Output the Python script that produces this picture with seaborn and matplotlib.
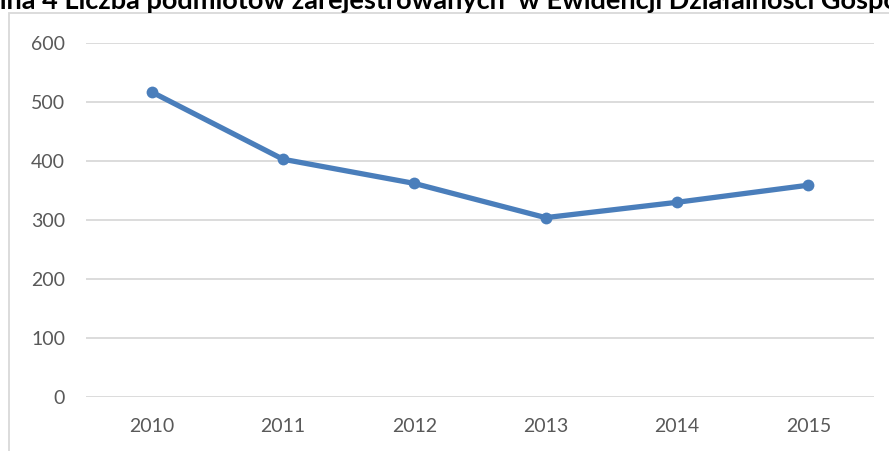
import matplotlib
matplotlib.use('Agg')
import matplotlib.pyplot as plt
import seaborn as sns
from matplotlib.patches import Rectangle

years = ['2010', '2011', '2012', '2013', '2014', '2015']
counts = [517, 403, 362, 304, 330, 359]
title = 'Rycina 4 Liczba podmiotów zarejestrowanych  w Ewidencji Działalności Gospodarczej'
hidden_start = 'Ryc'
visible_part = 'ia 4 Liczba podmiotów zarejestrowanych  w Ewidencji Działalności Gospo'

sns.set_style('white')
plt.rcParams['font.family'] = ['Lato', 'DejaVu Sans']

W, H = 889, 451
fig = plt.figure(figsize=(W / 100, H / 100), dpi=100)

# chart area border (only top and left are visible in the crop)
fig.add_artist(Rectangle((9 / W, -0.1), 1.2, 1 - 13 / H + 0.1, transform=fig.transFigure,
                         fill=False, edgecolor='#d9d9d9', lw=1.3))

ax = fig.add_axes([86 / W, 1 - 397 / H, 788 / W, 354 / H])
sns.lineplot(x=years, y=counts, ax=ax, color='#4a7ebb', lw=3.8, marker='o',
             markersize=8.5, markeredgewidth=0, sort=False)

ax.set_xlim(-0.5, len(years) - 0.5)
ax.set_ylim(0, 600)
ax.set_yticks(range(0, 601, 100))
ax.grid(axis='y', color='#d9d9d9', lw=1.3)
ax.set_axisbelow(True)
for s in ax.spines.values():
    s.set_visible(False)
ax.tick_params(length=0, labelsize=14, labelcolor='#595959', pad=15)
ax.set_xlabel('')
ax.set_ylabel('')

# title is cut off by the image edges, as in the source: fit the visible part to the width
renderer = fig.canvas.get_renderer()
probe = fig.text(0, 0, visible_part, fontsize=16, fontweight='bold')
vis_w = probe.get_window_extent(renderer=renderer).width
probe.remove()
fs = 16 * (W - 2) / vis_w
probe = fig.text(0, 0, hidden_start, fontsize=fs, fontweight='bold')
off = probe.get_window_extent(renderer=renderer).width
probe.remove()
fig.text(-off / W, 1 - 9 / H, title, fontsize=fs, fontweight='bold', color='black',
         ha='left', va='baseline')

fig.savefig('out.png', dpi=100)
